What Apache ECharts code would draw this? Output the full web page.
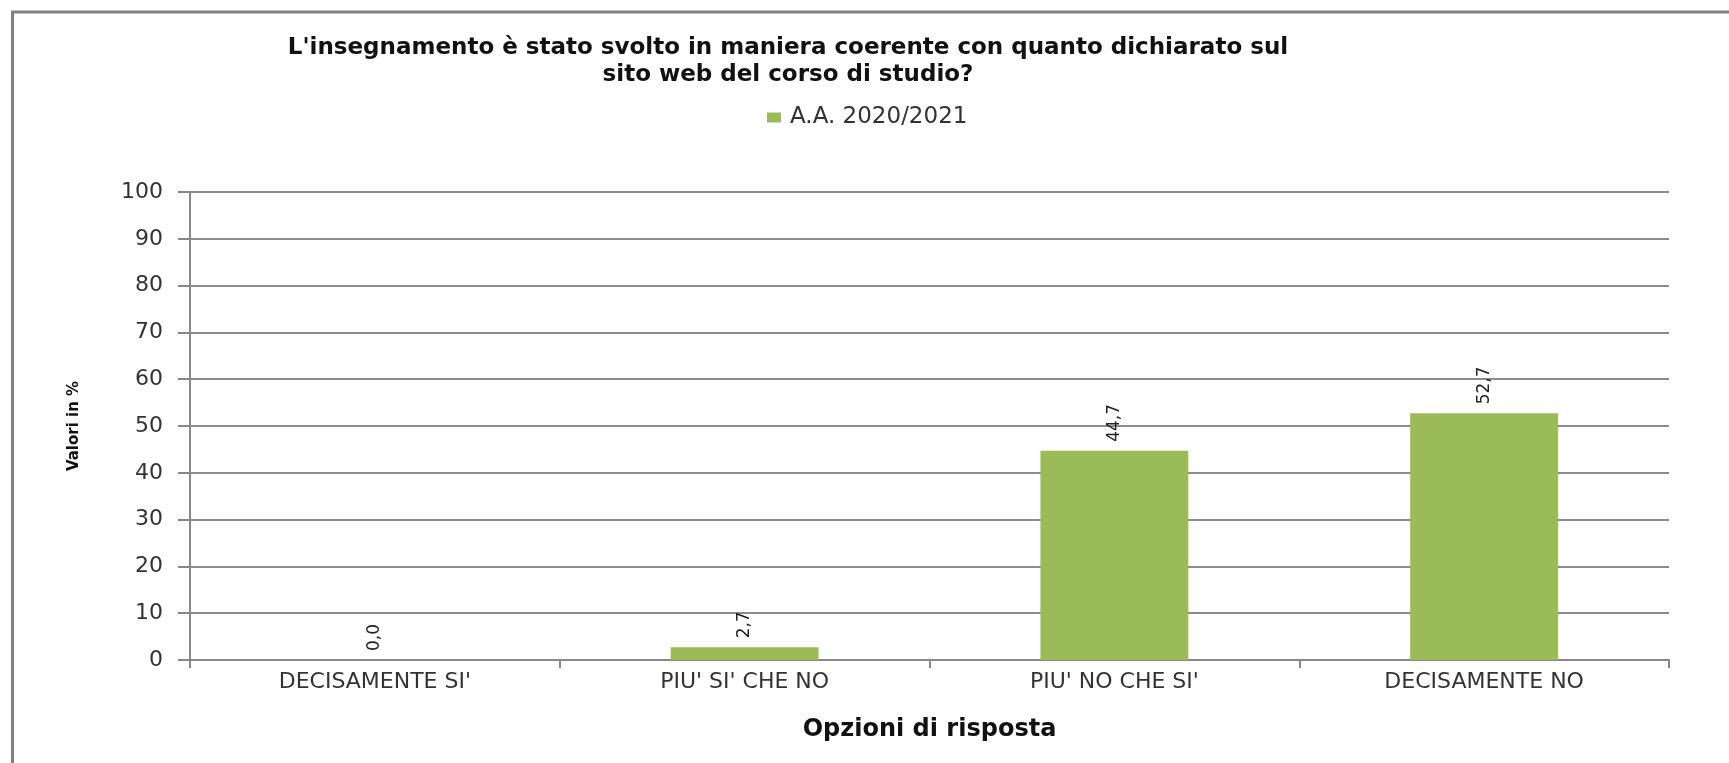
<!DOCTYPE html>
<html>
<head>
<meta charset="utf-8">
<script src="https://cdn.jsdelivr.net/npm/echarts@6/dist/echarts.min.js"></script>
<style>
html,body{margin:0;padding:0;background:#fff;}
#chart{width:1729px;height:763px;}
</style>
</head>
<body>
<div id="chart"></div>
<script>
var categories = ["DECISAMENTE SI'", "PIU' SI' CHE NO", "PIU' NO CHE SI'", "DECISAMENTE NO"];
var values = [0.0, 2.7, 44.7, 52.7];
var seriesName = "A.A. 2020/2021";
var titleText = "L'insegnamento è stato svolto in maniera coerente con quanto dichiarato sul\nsito web del corso di studio?";
var yAxisName = "Valori in %";
var xAxisName = "Opzioni di risposta";

var FONT = "DejaVu Sans";
var chart = echarts.init(document.getElementById('chart'), null, {renderer: 'canvas'});
chart.setOption({
  animation: false,
  backgroundColor: '#ffffff',
  title: {
    text: titleText,
    left: 783,
    top: 30,
    textAlign: 'center',
    textStyle: {fontFamily: FONT, fontWeight: 'bold', fontSize: 23, lineHeight: 27, color: '#111'}
  },
  legend: {
    data: [seriesName],
    left: 762,
    top: 101,
    icon: 'rect',
    itemWidth: 14,
    itemHeight: 10,
    itemGap: 10,
    textStyle: {fontFamily: FONT, fontSize: 23, color: '#333', padding: [0, 0, 0, 4]}
  },
  graphic: [{
    type: 'polyline',
    silent: true,
    shape: {points: [[12.5, 763], [12.5, 12], [1729, 12]]},
    style: {stroke: '#808080', lineWidth: 3, fill: null}
  }],
  grid: {left: 190, right: 60, top: 192, bottom: 103, containLabel: false},
  xAxis: {
    type: 'category',
    data: categories,
    name: xAxisName,
    nameLocation: 'middle',
    nameGap: 58,
    nameTextStyle: {fontFamily: FONT, fontWeight: 'bold', fontSize: 24, color: '#111'},
    axisLine: {lineStyle: {color: '#888', width: 2}},
    axisTick: {show: true, length: 8, lineStyle: {color: '#888', width: 2}},
    axisLabel: {fontFamily: FONT, fontSize: 22, color: '#333', margin: 11, interval: 0},
    splitLine: {show: false}
  },
  yAxis: {
    type: 'value',
    min: 0,
    max: 100,
    interval: 10,
    name: yAxisName,
    nameLocation: 'middle',
    nameRotate: 90,
    nameGap: 108,
    nameTextStyle: {fontFamily: FONT, fontWeight: 'bold', fontSize: 15, color: '#111'},
    axisLine: {show: true, lineStyle: {color: '#888', width: 2}},
    axisTick: {show: true, length: 12, lineStyle: {color: '#888', width: 2}},
    axisLabel: {fontFamily: FONT, fontSize: 22, color: '#333', margin: 27},
    splitLine: {show: true, lineStyle: {color: '#8c8c8c', width: 2}}
  },
  series: [{
    name: seriesName,
    type: 'bar',
    data: values,
    barWidth: '40%',
    itemStyle: {color: '#9BBB59'},
    label: {
      show: true,
      position: 'top',
      rotate: 90,
      align: 'left',
      verticalAlign: 'middle',
      distance: 9,
      fontFamily: FONT,
      fontSize: 17,
      color: '#222',
      formatter: function (p) { return p.value.toFixed(1).replace('.', ','); }
    }
  }]
});
</script>
</body>
</html>
